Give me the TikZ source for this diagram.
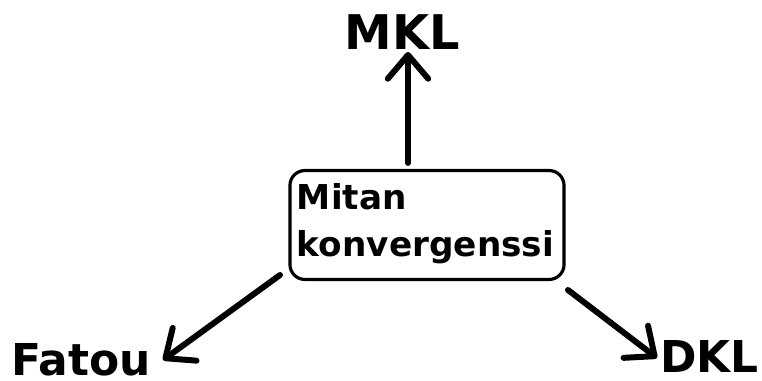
\documentclass[tikz,border=0pt]{standalone}
\usepackage{fontspec}
\setmainfont{DejaVu Sans}
\usetikzlibrary{arrows.meta}
\begin{document}
\begin{tikzpicture}[x=0.02cm,y=-0.02cm,
  lbl/.style={inner sep=0pt,font=\bfseries\fontsize{25pt}{30pt}\selectfont},
  conn/.style={line width=3.4pt,line cap=round,line join=round,
    -{Straight Barb[length=13.5pt,width=23pt,round]}},
  boxstyle/.style={draw,line width=1.8pt,rounded corners=8.5pt,
    minimum width=156pt,minimum height=62pt,inner sep=0pt,
    text width=148pt,
    align=left,font=\bfseries\fontsize{19.5pt}{26.7pt}\selectfont}]
\useasboundingbox (0,0) rectangle (762,381);
\node[boxstyle] (box) at (427,225) {Mitan\\konvergenssi\rule[-6pt]{0pt}{6pt}};
\node[lbl,anchor=base,font=\bfseries\fontsize{27.2pt}{32pt}\selectfont] (mkl) at (402,50) {MKL};
\node[lbl,anchor=base west] (fatou) at (11,376) {Fatou};
\node[lbl,anchor=base west] (dkl) at (660,373) {DKL};
\coordinate (s1) at (408,163);
\coordinate (e1) at (408,52);
\coordinate (s2) at (280,275);
\coordinate (e2) at (163,360);
\coordinate (s3) at (568,290);
\coordinate (e3) at (657,358);
\draw[conn] (s1) -- (e1);
\draw[conn] (s2) -- (e2);
\draw[conn] (s3) -- (e3);
\end{tikzpicture}
\end{document}
